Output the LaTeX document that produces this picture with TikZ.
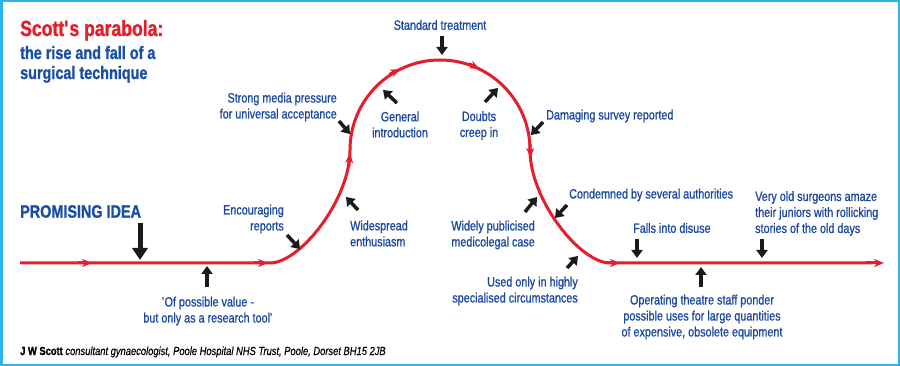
\documentclass[tikz,border=0pt]{standalone}
\usepackage{fontspec}
\setmainfont{Liberation Sans}[FakeStretch=0.8, UprightFeatures={FakeBold=0.8}, BoldFeatures={FakeBold=1.2}, ItalicFeatures={FakeBold=0.4}]
\usetikzlibrary{arrows.meta}
\definecolor{cred}{HTML}{E41E2B}
\definecolor{cblue}{HTML}{1A47A0}
\definecolor{tblue}{HTML}{1B4FA3}
\definecolor{cframe}{HTML}{2BB5E8}
\definecolor{cblack}{HTML}{1A1A1A}
\begin{document}
\begin{tikzpicture}[x=1pt,y=-1pt,
  lbl/.style={text=cblue, inner sep=0pt, font=\fontsize{13.5}{16}\selectfont},
  ttl/.style={anchor=base west, inner sep=0pt, font=\bfseries\fontsize{18}{20}\selectfont, text=tblue},
  curve/.style={draw=cred, line width=3pt},
  rtip/.style={curve, -{Stealth[length=10pt,width=8pt,inset=3pt]}},
  ptr/.style={draw=cblack, line width=3.5pt, -{Triangle[length=8pt,width=11pt]}},
  bigptr/.style={draw=cblack, line width=5pt, -{Triangle[length=12pt,width=15pt]}}
]
\useasboundingbox (0,0) rectangle (900,366);
\fill[white] (0,0) rectangle (900,366);
\draw[cframe, line width=2.5pt] (1.25,1.25) rectangle (898.75,364.75);

% --- main red curve ---
\coordinate (c0) at (20,263);
\coordinate (c1) at (270,263);
\coordinate (c2) at (350,150);
\coordinate (c3) at (440,60);
\coordinate (c4) at (530,150);
\coordinate (c5) at (610,263);
\coordinate (c6) at (872,263);
\draw[curve] (c0) -- (c1) .. controls (300,263) and (350,200) .. (c2)
  .. controls (350,100.3) and (390.3,60) .. (c3)
  .. controls (489.7,60) and (530,100.3) .. (c4)
  .. controls (530,200) and (580,263) .. (c5) -- (c6);

% --- red arrowheads along the curve ---
\coordinate (r1a) at (78,263);    \coordinate (r1b) at (92,263);
\coordinate (r2a) at (254,263);   \coordinate (r2b) at (268,263);
\coordinate (r3a) at (348.8,167); \coordinate (r3b) at (350,153);
\coordinate (r4a) at (389.6,74.3);\coordinate (r4b) at (400.4,69);
\coordinate (r5a) at (468.8,63.7);\coordinate (r5b) at (479.6,69);
\coordinate (r6a) at (530,144);   \coordinate (r6b) at (530.6,158);
\coordinate (r7a) at (605,263);   \coordinate (r7b) at (620,263);
\coordinate (r8a) at (866,263);   \coordinate (r8b) at (884,263);
\foreach \i in {1,...,8} {\draw[rtip] (r\i a) -- (r\i b);}

% --- black pointers ---
\coordinate (pPa) at (140,223); \coordinate (pPb) at (140,260);
\draw[bigptr] (pPa) -- (pPb);
\coordinate (pOa) at (207,287); \coordinate (pOb) at (207,266);
\coordinate (pEa) at (287,235); \coordinate (pEb) at (300,249);
\coordinate (pSa) at (339,121); \coordinate (pSb) at (350,134);
\coordinate (pWa) at (358,210); \coordinate (pWb) at (346,197);
\coordinate (pGa) at (397,103); \coordinate (pGb) at (383,90);
\coordinate (pTa) at (442,36);  \coordinate (pTb) at (442,55);
\coordinate (pDa) at (485,102); \coordinate (pDb) at (498,88);
\coordinate (pMa) at (543,122); \coordinate (pMb) at (531,135);
\coordinate (pLa) at (525,212); \coordinate (pLb) at (537,197);
\coordinate (pCa) at (567,205); \coordinate (pCb) at (555,218);
\coordinate (pUa) at (567,268); \coordinate (pUb) at (578,256);
\coordinate (pFa) at (637,239); \coordinate (pFb) at (637,258);
\coordinate (pVa) at (762,239); \coordinate (pVb) at (762,258);
\coordinate (pXa) at (701,287); \coordinate (pXb) at (701,267);
\foreach \p in {O,E,S,W,G,T,D,M,L,C,U,F,V,X} {\draw[ptr] (p\p a) -- (p\p b);}

% --- title ---
\node[anchor=base west, inner sep=0pt, font=\bfseries\fontsize{22}{26}\selectfont, text=cred] (t1) at (20,36) {Scott\textquotesingle s parabola:};
\node[ttl] (t2) at (20,59) {the rise and fall of a};
\node[ttl] (t3) at (20,79) {surgical technique};
\node[ttl, anchor=west] (prom) at (20,211.5) {PROMISING IDEA};

% --- labels ---
\node[lbl] (std) at (440,25) {Standard treatment};
\node[lbl, anchor=east, align=right] (media) at (337,107) {Strong media pressure\\for universal acceptance};
\node[lbl, align=center] (gen) at (400,124.5) {General\\introduction};
\node[lbl, align=center] (doubt) at (479,125.5) {Doubts\\creep in};
\node[lbl, anchor=west] (dam) at (546,116) {Damaging survey reported};
\node[lbl, anchor=west, align=left] (wide) at (350,233.5) {Widespread\\enthusiasm};
\node[lbl, anchor=east, align=right] (enc) at (284,219) {Encouraging\\reports};
\node[lbl, anchor=east, align=right] (pub) at (535,235) {Widely publicised\\medicolegal case};
\node[lbl, anchor=west] (cond) at (569,195) {Condemned by several authorities};
\node[lbl, anchor=west] (falls) at (633,228) {Falls into disuse};
\node[lbl, anchor=west, align=left] (old) at (755,213.5) {Very old surgeons amaze\\their juniors with rollicking\\stories of the old days};
\node[lbl, anchor=east, align=right] (used) at (578,291) {Used only in highly\\specialised circumstances};
\node[lbl, align=center] (oper) at (702,317) {Operating theatre staff ponder\\possible uses for large quantities\\of expensive, obsolete equipment};
\node[lbl, align=center] (poss) at (208,311) {\textquotesingle Of possible value -\\but only as a research tool\textquotesingle};

% --- footer ---
\node[anchor=base west, inner sep=0pt, font=\fontsize{11.7}{14}\selectfont, text=black] (foot) at (20,355)
  {\textbf{J W Scott} \textit{consultant gynaecologist, Poole Hospital NHS Trust, Poole, Dorset BH15 2JB}};
\end{tikzpicture}
\end{document}
